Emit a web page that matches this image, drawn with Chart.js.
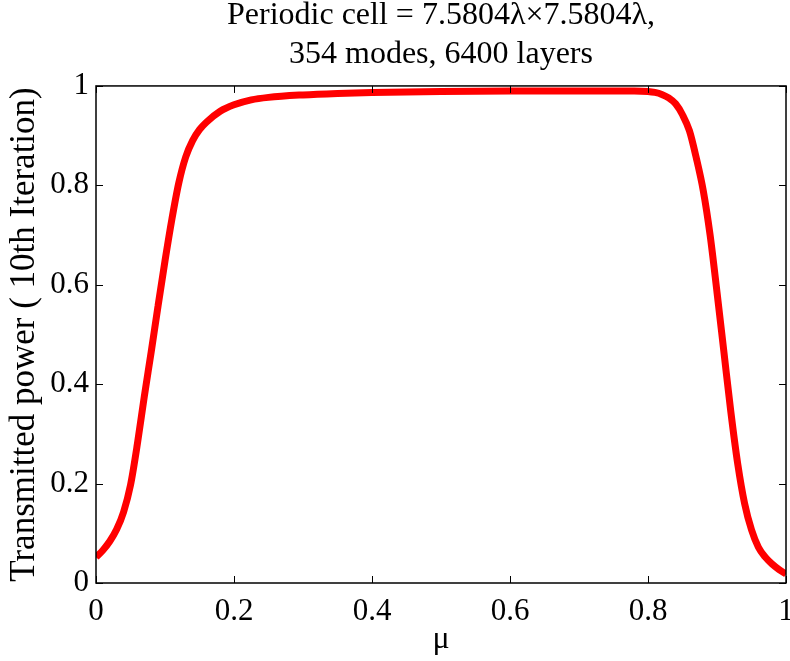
<!DOCTYPE html>
<html>
<head>
<meta charset="utf-8">
<script src="https://cdn.jsdelivr.net/npm/chart.js@4.4.0/dist/chart.umd.min.js"></script>
<style>
  html, body { margin: 0; padding: 0; background: #fff; }
  #wrap { width: 790px; height: 661px; }
</style>
</head>
<body>
<div id="wrap"><canvas id="myChart" width="790" height="661"></canvas></div>
<script>
// Valeurs
const mu = [0, 0.01, 0.02, 0.03, 0.04, 0.05, 0.06, 0.07, 0.08, 0.09, 0.10, 0.11, 0.12, 0.13, 0.14, 0.15, 0.16, 0.18, 0.20, 0.225, 0.25, 0.30, 0.35, 0.40, 0.50, 0.60, 0.70, 0.78, 0.80, 0.81, 0.82, 0.83, 0.84, 0.85, 0.86, 0.87, 0.88, 0.89, 0.90, 0.91, 0.92, 0.93, 0.94, 0.95, 0.96, 0.97, 0.98, 0.99, 1.00];
const transmitted = [0.052, 0.066, 0.084, 0.108, 0.143, 0.197, 0.28, 0.375, 0.465, 0.558, 0.648, 0.732, 0.805, 0.857, 0.89, 0.912, 0.927, 0.949, 0.962, 0.972, 0.977, 0.982, 0.985, 0.987, 0.989, 0.99, 0.99, 0.99, 0.989, 0.987, 0.983, 0.976, 0.964, 0.942, 0.91, 0.855, 0.79, 0.70, 0.585, 0.465, 0.345, 0.24, 0.16, 0.107, 0.072, 0.052, 0.038, 0.027, 0.018];
const xTicks = [0, 0.2, 0.4, 0.6, 0.8, 1];
const yTicks = [0, 0.2, 0.4, 0.6, 0.8, 1];
const titleLines = ['Periodic cell = 7.5804\u03bb\u00d77.5804\u03bb,', '354 modes, 6400 layers'];
const xLabel = '\u03bc';
const yLabel = 'Transmitted power ( 10th Iteration)';

const serif = "'Liberation Serif', 'Times New Roman', serif";

// Cadre et graduations intérieures (style MATLAB)
const boxTicks = {
  id: 'boxTicks',
  afterDatasetsDraw(chart) {
    const { ctx, chartArea: a, scales } = chart;
    const len = 7;
    ctx.save();
    ctx.strokeStyle = '#000';
    ctx.lineWidth = 1;
    ctx.beginPath();
    xTicks.forEach(v => {
      const x = Math.round(scales.x.getPixelForValue(v)) + 0.5;
      ctx.moveTo(x, a.bottom); ctx.lineTo(x, a.bottom - len);
      ctx.moveTo(x, a.top); ctx.lineTo(x, a.top + len);
    });
    yTicks.forEach(v => {
      const y = Math.round(scales.y.getPixelForValue(v)) + 0.5;
      ctx.moveTo(a.left, y); ctx.lineTo(a.left + len, y);
      ctx.moveTo(a.right, y); ctx.lineTo(a.right - len, y);
    });
    ctx.stroke();
    ctx.lineWidth = 1.5;
    ctx.strokeRect(a.left, a.top, a.right - a.left, a.bottom - a.top);
    ctx.restore();
  }
};

const ctx = document.getElementById('myChart').getContext('2d');
new Chart(ctx, {
  type: 'line',
  data: {
    datasets: [{
      data: mu.map((m, i) => ({ x: m, y: transmitted[i] })),
      borderColor: '#ff0000',
      borderWidth: 7,
      pointRadius: 0,
      cubicInterpolationMode: 'monotone',
      fill: false
    }]
  },
  options: {
    responsive: false,
    animation: false,
    layout: { padding: { left: 0, right: 4, top: 0, bottom: 0 } },
    plugins: {
      legend: { display: false },
      tooltip: { enabled: false },
      title: {
        display: true,
        text: titleLines,
        fullSize: false,
        color: '#000',
        font: { family: serif, size: 32, weight: 'normal', lineHeight: 1.21 },
        padding: { top: -3.5, bottom: 12 }
      }
    },
    scales: {
      x: {
        type: 'linear',
        min: 0,
        max: 1,
        afterBuildTicks: s => { s.ticks = xTicks.map(v => ({ value: v })); },
        afterFit: s => { s.height = 78; s.paddingLeft = 0; s.paddingRight = 0; },
        grid: { display: false, drawTicks: false },
        border: { display: false },
        ticks: { color: '#000', padding: 10, maxRotation: 0, callback: v => String(v), font: { family: serif, size: 31 } },
        title: { display: true, text: xLabel, color: '#000', font: { family: serif, size: 32 }, padding: { top: 0, bottom: 2 } }
      },
      y: {
        min: 0,
        max: 1,
        afterBuildTicks: s => { s.ticks = yTicks.map(v => ({ value: v })); },
        afterFit: s => { s.width = 96; s.paddingTop = 0; s.paddingBottom = 0; },
        grid: { display: false, drawTicks: false },
        border: { display: false },
        ticks: { color: '#000', padding: 7, callback: v => String(v), font: { family: serif, size: 31 } },
        title: { display: true, text: yLabel, color: '#000', font: { family: serif, size: 35 }, padding: { top: 4, bottom: 0 } }
      }
    }
  },
  plugins: [boxTicks]
});
</script>
</body>
</html>
